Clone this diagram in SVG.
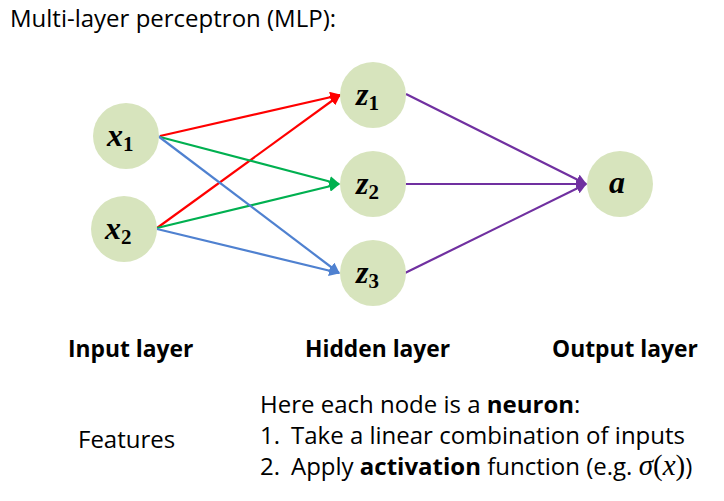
<svg xmlns="http://www.w3.org/2000/svg" width="724" height="501" viewBox="0 0 724 501">
<style>
.node{fill:#D7E4BD}
.math{font-family:"Liberation Serif","DejaVu Serif",serif;font-weight:bold;font-style:italic;font-size:32px;fill:#000}
.sub{font-size:21px;font-style:normal}
.t{font-family:"Open Sans","Liberation Sans",sans-serif;font-size:24px;fill:#000}
.h{font-family:"Open Sans","Liberation Sans",sans-serif;font-size:22.8px;font-weight:bold;fill:#000}
.b{font-weight:bold}
.m{font-family:"Liberation Serif","DejaVu Serif",serif;font-size:29px}
.e{fill:none;stroke-width:2.2}
</style>
<defs>
<marker id="ar" viewBox="0 0 10 10" refX="9" refY="5" markerWidth="5" markerHeight="5" orient="auto" markerUnits="strokeWidth"><path d="M0,0 L10,5 L0,10 z" fill="#FF0000"/></marker>
<marker id="ag" viewBox="0 0 10 10" refX="9" refY="5" markerWidth="5" markerHeight="5" orient="auto" markerUnits="strokeWidth"><path d="M0,0 L10,5 L0,10 z" fill="#00B050"/></marker>
<marker id="ab" viewBox="0 0 10 10" refX="9" refY="5" markerWidth="5" markerHeight="5" orient="auto" markerUnits="strokeWidth"><path d="M0,0 L10,5 L0,10 z" fill="#4F81D0"/></marker>
<marker id="ap" viewBox="0 0 10 10" refX="9" refY="5" markerWidth="5" markerHeight="5" orient="auto" markerUnits="strokeWidth"><path d="M0,0 L10,5 L0,10 z" fill="#7030A0"/></marker>
</defs>
<text class="t" x="10" y="27" font-size="24.6">Multi-layer perceptron (MLP):</text>
<g id="connectors">
<line class="e" x1="160" y1="136" x2="340" y2="95" stroke="#FF0000" marker-end="url(#ar)"/>
<line class="e" x1="157" y1="228" x2="340" y2="95" stroke="#FF0000" marker-end="url(#ar)"/>
<line class="e" x1="160" y1="137" x2="339" y2="184" stroke="#00B050" marker-end="url(#ag)"/>
<line class="e" x1="157" y1="228" x2="339" y2="184" stroke="#00B050" marker-end="url(#ag)"/>
<line class="e" x1="158" y1="136" x2="339" y2="273" stroke="#4F81D0" marker-end="url(#ab)"/>
<line class="e" x1="157" y1="229" x2="339" y2="273" stroke="#4F81D0" marker-end="url(#ab)"/>
<line class="e" x1="406" y1="94" x2="586" y2="184" stroke="#7030A0" marker-end="url(#ap)"/>
<line class="e" x1="406" y1="184" x2="586" y2="184" stroke="#7030A0" marker-end="url(#ap)"/>
<line class="e" x1="405" y1="273" x2="586" y2="184" stroke="#7030A0" marker-end="url(#ap)"/>
</g>
<g id="x1"><circle class="node" cx="126" cy="136" r="33"/><text class="math" x="107" y="146">x<tspan class="sub" dy="5">1</tspan></text></g>
<g id="x2"><circle class="node" cx="124" cy="229" r="33"/><text class="math" x="105" y="239">x<tspan class="sub" dy="5">2</tspan></text></g>
<g id="z1"><circle class="node" cx="373" cy="95" r="33"/><text class="math" x="356" y="105">z<tspan class="sub" dy="5">1</tspan></text></g>
<g id="z2"><circle class="node" cx="373" cy="184" r="33"/><text class="math" x="356" y="194">z<tspan class="sub" dy="5">2</tspan></text></g>
<g id="z3"><circle class="node" cx="373" cy="273" r="33"/><text class="math" x="356" y="283">z<tspan class="sub" dy="5">3</tspan></text></g>
<g id="a"><circle class="node" cx="620" cy="184" r="33"/><text class="math" x="609" y="193">a</text></g>
<text class="h" x="68" y="357">Input layer</text>
<text class="h" x="305" y="357">Hidden layer</text>
<text class="h" x="552" y="357">Output layer</text>
<text class="t" x="78" y="448">Features</text>
<text class="t" x="260" y="413">Here each node is a <tspan class="b">neuron</tspan>:</text>
<text class="t" x="260" y="444">1.</text>
<text class="t" x="291" y="444">Take a linear combination of inputs</text>
<text class="t" x="260" y="475">2.</text>
<text class="t" x="291" y="475">Apply <tspan class="b">activation</tspan> function (e.g. <tspan class="m" font-style="italic">σ</tspan><tspan class="m">(</tspan><tspan class="m" font-style="italic">x</tspan><tspan class="m">)</tspan>)</text>
</svg>
